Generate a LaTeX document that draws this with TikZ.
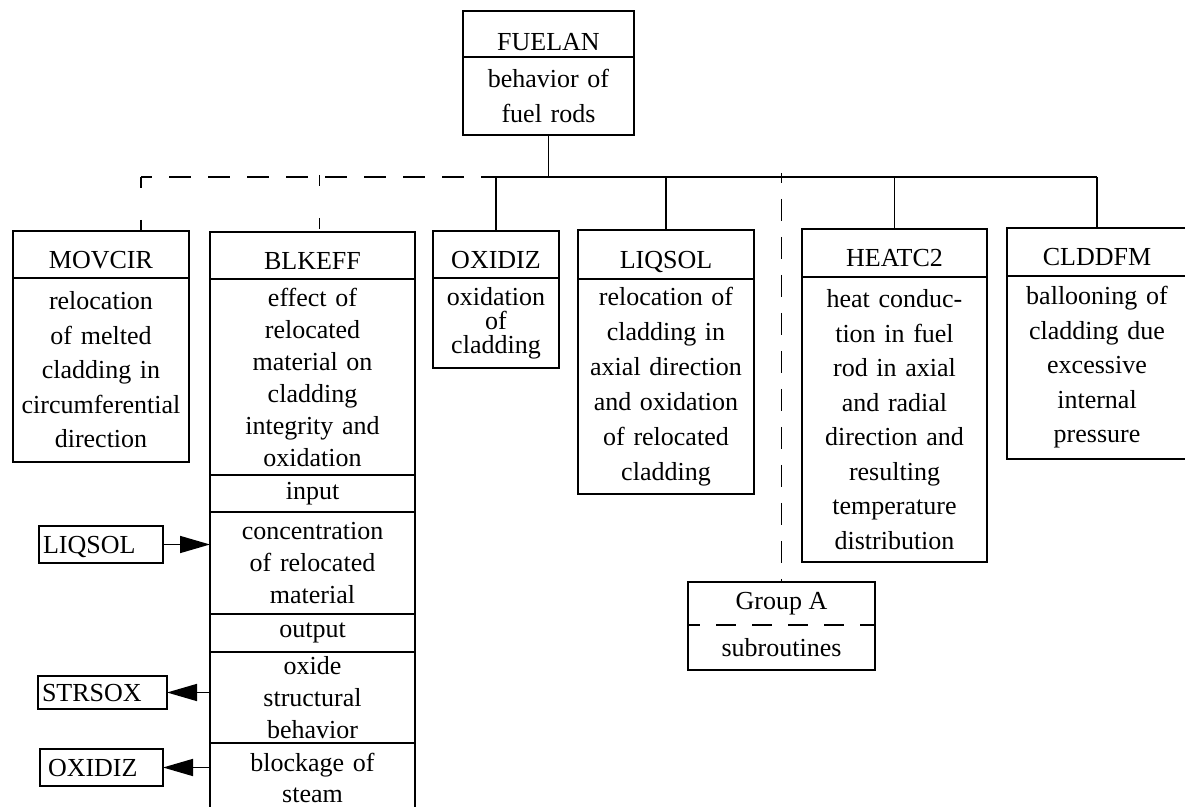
\documentclass[tikz,border=0pt]{standalone}
\usepackage{fontspec}
\setmainfont{Liberation Serif}
\usetikzlibrary{arrows.meta,positioning,calc}

\begin{document}
\begin{tikzpicture}[
    x=0.5pt, y=-0.5pt,
    line width=0.8pt,
    font=\fontsize{13}{17.25}\selectfont,
    box/.style={
        draw,
        outer sep=0pt,
        inner sep=0pt,
        align=center
    },
    head/.style={box, anchor=north west, minimum width=#1,
        minimum height=23.5pt, text height=14pt, text depth=0pt},
    body/.style={box, text width=#1},
    tight/.style={font=\fontsize{13}{16}\selectfont},
    ext/.style={draw, anchor=north west, outer sep=0pt, inner xsep=2pt,
        inner ysep=0pt, align=left, text height=8.6pt, text depth=0pt},
    grp/.style={outer sep=0pt, inner sep=0pt, minimum width=93.5pt},
    busdash/.style={dash pattern=on 11pt off 8.5pt, dash phase=5.5pt},
    dropdash/.style={dash pattern=on 5.5pt off 16pt},
    grpdash/.style={dash pattern=on 11pt off 8pt, dash phase=6pt},
    tip/.style={-{Triangle[length=15pt,width=8.5pt]}}
    ]
    \useasboundingbox (0,0) rectangle (1185,807);

    \node[head=85.5pt, minimum height=23pt, text height=17pt] (FUELAN) at (463,11) {FUELAN};
    \node[body=85.5pt, minimum height=39pt, below=0pt of FUELAN] (FUELAN-2) {behavior of\\fuel rods};

    \node[head=88pt] (MOVCIR) at (13,231) {MOVCIR};
    \node[body=88pt, minimum height=92pt, below=0pt of MOVCIR] (MOVCIR-2)
        {relocation\\of melted\\cladding in\\circumferential\\direction};

    \node[head=102.5pt] (BLKEFF) at (210,232) {BLKEFF};
    \node[body=102.5pt, tight, minimum height=98pt, below=0pt of BLKEFF] (BLKEFF-2)
        {effect of\\relocated\\material on\\cladding\\integrity and\\oxidation};
    \node[body=102.5pt, minimum height=18.5pt, below=0pt of BLKEFF-2] (BLKEFF-3) {input};
    \node[body=102.5pt, tight, minimum height=51pt, below=0pt of BLKEFF-3] (BLKEFF-4)
        {concentration\\of relocated\\material};
    \node[body=102.5pt, minimum height=19pt, below=0pt of BLKEFF-4] (BLKEFF-5) {output};
    \node[body=102.5pt, tight, minimum height=45.5pt, below=0pt of BLKEFF-5] (BLKEFF-6)
        {oxide\\structural\\behavior};
    \node[body=102.5pt, font=\fontsize{13}{15.5}\selectfont, minimum height=35pt, below=0pt of BLKEFF-6] (BLKEFF-7)
        {blockage of\\steam};

    \node[head=63pt] (OXIDIZ) at (433,231) {OXIDIZ};
    \node[body=63pt, font=\fontsize{13}{12}\selectfont, minimum height=45pt, below=0pt of OXIDIZ] (OXIDIZ-2)
        {oxidation\\of\\cladding};

    \node[head=88pt, minimum height=24.5pt] (LIQSOL) at (578,230) {LIQSOL};
    \node[body=88pt, font=\fontsize{13}{17.5}\selectfont, minimum height=107.5pt, below=0pt of LIQSOL] (LIQSOL-2)
        {relocation of\\cladding in\\axial direction\\and oxidation\\of relocated\\cladding};

    \node[head=92.5pt, minimum height=24pt] (HEATC2) at (802,229) {HEATC2};
    \node[body=92.5pt, minimum height=142.5pt, below=0pt of HEATC2] (HEATC2-2)
        {heat conduc-\\tion in fuel\\rod in axial\\and radial\\direction and\\resulting\\temperature\\distribution};

    \node[head=90pt, minimum height=24pt] (CLDDFM) at (1007,228) {CLDDFM};
    \node[body=90pt, minimum height=91.5pt, below=0pt of CLDDFM] (CLDDFM-2)
        {ballooning of\\cladding due\\excessive\\internal\\pressure};

    % group legend
    \node[grp, anchor=north west, minimum height=21.5pt] (GroupA) at (688,582) {Group A};
    \node[grp, minimum height=22.5pt, below=0pt of GroupA] (GroupA-2) {subroutines};
    \draw (GroupA.north west) rectangle (GroupA-2.south east);
    \draw[dash pattern=on 10pt off 8pt, dash phase=4pt] (GroupA.south west) -- (GroupA.south east);

    \node[ext, text width=58pt, minimum height=18.5pt] (in-LIQSOL) at (39,526) {LIQSOL};
    \node[ext, text width=60.5pt, minimum height=16.5pt] (out-STRSOX) at (38,676) {STRSOX};
    \node[ext, text width=53.5pt, inner xsep=4pt, minimum height=18.5pt] (out-OXIDIZ) at (40,749) {OXIDIZ};

    \draw[tip] (in-LIQSOL.east) -- (in-LIQSOL.east -| BLKEFF-4.west);
    \draw[tip] (BLKEFF-6.west |- out-STRSOX.east) -- (out-STRSOX.east);
    \draw[tip] (BLKEFF-7.west |- out-OXIDIZ.east) -- (out-OXIDIZ.east);

    \coordinate (bus) at (0,177);
    \coordinate (MOVCIR-up) at ($(MOVCIR.north)+(40,0)$);
    \coordinate (BLKEFF-up) at ($(BLKEFF.north)+(7,0)$);

    \draw (FUELAN-2.south) -- (FUELAN-2.south |- bus);
    \draw[busdash] (MOVCIR-up |- bus) -- (OXIDIZ.north |- bus);
    \draw (OXIDIZ.north |- bus) -- (CLDDFM.north |- bus);
    \draw[dropdash] (MOVCIR-up |- bus) -- (MOVCIR-up);
    \draw[dropdash] ($(BLKEFF-up |- bus)+(0,-2)$) -- (BLKEFF-up);
    \foreach \n in {OXIDIZ,LIQSOL,HEATC2,CLDDFM}
        \draw (\n.north |- bus) -- (\n.north);
    \draw[grpdash] ($(GroupA.north |- bus)+(0,-4)$) -- (GroupA.north);
\end{tikzpicture}
\end{document}
